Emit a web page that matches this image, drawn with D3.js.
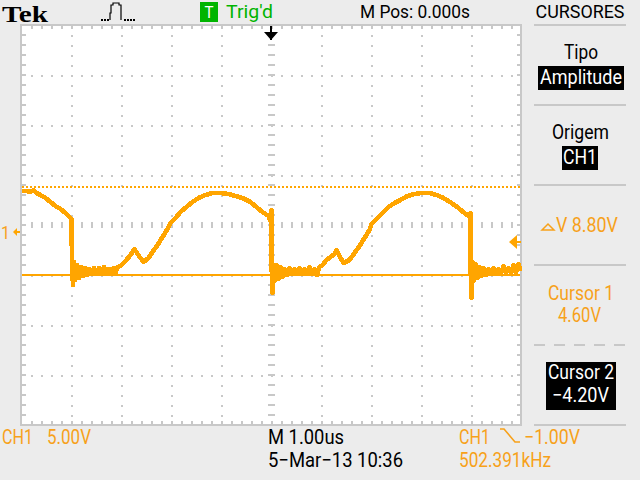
<!DOCTYPE html>
<html><head><meta charset="utf-8">
<script src="https://cdn.jsdelivr.net/npm/d3@7"></script>
<style>html,body{margin:0;padding:0;background:#ececec;overflow:hidden}svg{display:block}</style>
</head><body><svg id="c" width="640" height="480"></svg>
<script>
const traceTime=[-5.00,-4.90,-4.82,-4.76,-4.70,-4.62,-4.52,-4.42,-4.32,-4.22,-4.12,-4.06,-4.00,-3.99,-3.97,-3.95,
 -3.93,-3.89,-3.85,-3.81,-3.77,-3.73,-3.69,-3.65,-3.60,-3.55,-3.50,-3.45,-3.40,-3.35,-3.30,-3.25,-3.20,-3.16,-3.12,-3.08,
 -3.02,-2.92,-2.82,-2.74,-2.68,-2.56,-2.46,-2.38,-2.28,-2.18,-2.08,-2.02,-1.92,-1.82,-1.70,-1.58,-1.46,-1.32,-1.18,-1.02,-0.86,-0.72,-0.58,-0.42,-0.30,-0.18,-0.06,-0.02,0.00,0.00,0.02,0.04,
 0.06,0.10,0.14,0.18,0.22,0.26,0.31,0.36,0.41,0.46,0.51,0.56,0.61,0.66,0.71,0.76,0.81,0.86,0.91,0.96,
 1.02,1.10,1.18,1.26,1.30,1.36,1.44,1.56,1.66,1.76,1.86,1.96,2.00,2.10,2.20,2.34,2.46,2.58,2.72,2.86,3.00,3.16,3.30,3.44,3.60,3.74,3.88,3.96,3.98,3.98,4.00,4.02,
 4.04,4.08,4.12,4.16,4.20,4.24,4.29,4.34,4.39,4.44,4.49,4.54,4.59,4.64,4.69,4.74,4.79,4.84,4.89,4.94,4.98];
const traceVolts=[4.1,4.1,4.0,4.2,3.9,3.7,3.4,3.0,2.6,2.3,1.9,1.6,1.3,-3.0,-5.3,-3.0,
 -4.8,-3.3,-4.6,-3.5,-4.4,-3.6,-4.3,-3.7,-4.2,-3.6,-4.1,-3.6,-4.1,-3.5,-4.2,-3.7,-4.2,-3.6,-4.1,-3.5,
 -3.4,-2.9,-2.3,-1.7,-2.2,-3.0,-2.6,-2.0,-1.3,-0.5,0.3,0.9,1.4,2.0,2.5,3.0,3.4,3.7,3.9,3.9,3.8,3.6,3.4,3.0,2.5,2.0,1.6,1.1,2.2,-3.0,-6.1,-3.3,
 -4.9,-3.3,-4.7,-3.5,-4.5,-3.7,-4.3,-3.6,-4.2,-3.7,-4.1,-3.6,-4.2,-3.7,-4.1,-3.5,-4.2,-3.7,-4.3,-3.5,
 -3.3,-2.8,-2.5,-2.2,-1.8,-2.4,-3.1,-2.8,-2.1,-1.4,-0.6,0.2,0.8,1.3,1.8,2.5,2.9,3.2,3.6,3.8,3.9,3.9,3.7,3.4,2.9,2.4,1.8,1.6,1.9,-3.0,-6.6,-3.0,
 -4.9,-3.2,-4.6,-3.5,-4.4,-3.6,-4.3,-3.7,-4.2,-3.6,-4.2,-3.7,-4.1,-3.4,-4.1,-3.6,-4.1,-3.3,-4.0,-3.2,-3.9];
const cursorLevels=[4.6,-4.2];
const triggerLevel=-1.0;
const topLabels=["Tek","Trig'd","M Pos: 0.000s"];
const menuLabels=["CURSORES","Tipo","Amplitude","Origem","CH1"];
const readouts=["V 8.80V","Cursor 1","4.60V","Cursor 2","−4.20V"];
const footer=["CH1","5.00V","M 1.00us","5−Mar−13 10:36","CH1","−1.00V","502.391kHz"];

const ORANGE="#ffa500",TXT="#f7a11a",GREEN="#00b400",GRID="#c8c8c8";
const svg=d3.select("#c");
const x=d3.scaleLinear().domain([-5,5]).range([21.5,521.5]);
const y=d3.scaleLinear().domain([20.7,-19.3]).range([25,425]);

svg.append("rect").attr("width",640).attr("height",480).attr("fill","#ececec");
svg.append("rect").attr("x",22).attr("y",25).attr("width",499).attr("height",399).attr("fill","#fff");
const g=svg.append("g").attr("shape-rendering","crispEdges");
const sq=(px,py,w,h,c=GRID)=>g.append("rect").attr("x",px).attr("y",py).attr("width",w).attr("height",h).attr("fill",c);

d3.range(1,10).forEach(i=>{const gx=Math.round(21+i*50);
  if(i===5)return;
  d3.range(1,40).forEach(j=>sq(gx,25+j*10,2,2));});
d3.range(1,8).forEach(j=>{const gy=25+j*50;
  if(j===4)return;
  d3.range(1,50).forEach(i=>sq(21+i*10,gy,2,2));});
d3.range(1,40).forEach(j=>sq(268,24+j*10,7,2));
d3.range(1,50).forEach(i=>sq(21+i*10,222,2,6));
d3.range(1,50).forEach(i=>{sq(21+i*10,25,2,4);sq(21+i*10,421,2,4);});
d3.range(1,40).forEach(j=>{sq(22,24+j*10,4,2);sq(517,24+j*10,4,2);});
sq(21,24,501,2);sq(21,424,501,2);sq(20,24,2,402);sq(520,24,2,402);

const cur=svg.append("g").attr("shape-rendering","crispEdges");
cur.append("line").attr("x1",22).attr("x2",520).attr("y1",Math.round(y(cursorLevels[0]))+1).attr("y2",Math.round(y(cursorLevels[0]))+1)
  .attr("stroke",ORANGE).attr("stroke-width",2).attr("stroke-dasharray","2 2");
cur.append("line").attr("x1",22).attr("x2",520).attr("y1",Math.round(y(cursorLevels[1]))+1).attr("y2",Math.round(y(cursorLevels[1]))+1)
  .attr("stroke",ORANGE).attr("stroke-width",2);

const pts=traceTime.map((t,i)=>[t,traceVolts[i]]);
svg.append("path").attr("d",d3.line().x(d=>x(d[0])).y(d=>y(d[1]))(pts))
  .attr("fill","none").attr("stroke",ORANGE).attr("stroke-width",4.6).attr("stroke-linejoin","round").attr("shape-rendering","crispEdges");

function txt(s,px,base,w,c,size=20,extra={}){
  const t=svg.append("text").attr("x",px).attr("y",base).attr("fill",c)
   .attr("font-family",extra.family||"'Roboto','Liberation Sans',sans-serif")
   .attr("font-size",size).text(s);
  if(extra.weight)t.attr("font-weight",extra.weight);
  t.attr("textLength",w).attr("lengthAdjust","spacingAndGlyphs");
  return t;
}
txt(topLabels[0],2,22,46,"#000",24,{family:"'Liberation Serif',serif",weight:"bold"});
svg.append("path").attr("d","M110 20V13H111V5H113V3H119V5H121V20").attr("fill","none").attr("stroke","#000").attr("stroke-width",1.2);
[101,104,107,124,127,130,133].forEach(p=>svg.append("rect").attr("x",p).attr("y",19).attr("width",2).attr("height",2).attr("fill","#000"));
svg.append("rect").attr("x",200).attr("y",2).attr("width",18).attr("height",20).attr("fill",GREEN);
txt("T",204.5,17.5,9,"#fff",16);
txt(topLabels[1],226,17.5,47,GREEN,18.5);
txt(topLabels[2],360,17.5,110,"#000",18.5);

svg.append("rect").attr("x",270).attr("y",26).attr("width",2).attr("height",14).attr("fill","#000");
svg.append("path").attr("d","M264 32H278L271 40Z").attr("fill","#000");
txt("1",1,239,9,TXT,18);
svg.append("path").attr("d",`M13 ${y(0)}L17 ${y(0)-4}V${y(0)-1}H20V${y(0)+1}H17V${y(0)+4}Z`).attr("fill",ORANGE);
const ty=y(triggerLevel);
svg.append("path").attr("d",`M509 ${ty}L517 ${ty-7}V${ty-1}H521V${ty+1}H517V${ty+7}Z`).attr("fill",ORANGE);

[25,105,185,265,425].forEach(v=>svg.append("rect").attr("x",534).attr("y",v-1).attr("width",92).attr("height",2).attr("fill",GRID));
d3.range(0,5).forEach(i=>svg.append("rect").attr("x",534+i*20).attr("y",344).attr("width",11).attr("height",2).attr("fill",GRID));
txt(menuLabels[0],535.5,17.5,89,"#000",18.5);
txt(menuLabels[1],564,59,34,"#000");
svg.append("rect").attr("x",538).attr("y",66).attr("width",86).attr("height",24).attr("fill","#000");
txt(menuLabels[2],540,84,82,"#fff");
txt(menuLabels[3],552,139,57,"#000");
svg.append("rect").attr("x",562).attr("y",146).attr("width",36).attr("height",24).attr("fill","#000");
txt(menuLabels[4],563,164,34,"#fff");
svg.append("path").attr("d","M542 230L548 224L554 230Z").attr("fill","none").attr("stroke",TXT).attr("stroke-width",1.5);
txt(readouts[0],556,232,62,TXT);
txt(readouts[1],548,300,66,TXT);
txt(readouts[2],558,322,43,TXT);
svg.append("rect").attr("x",546).attr("y",362).attr("width",70).attr("height",48).attr("fill","#000");
txt(readouts[3],548,379,66,"#fff");
txt(readouts[4],552,402,57,"#fff");

txt(footer[0],2,444,31,TXT);
txt(footer[1],47,444,44,TXT);
txt(footer[2],268,444,76,"#000");
txt(footer[3],268,467,135,"#000");
txt(footer[4],459,444,31,TXT);
svg.append("path").attr("d","M500 429H504L515 442H520").attr("fill","none").attr("stroke",TXT).attr("stroke-width",1.6);
txt(footer[5],524,444,56,TXT);
txt(footer[6],459,467,92,TXT);
</script></body></html>
